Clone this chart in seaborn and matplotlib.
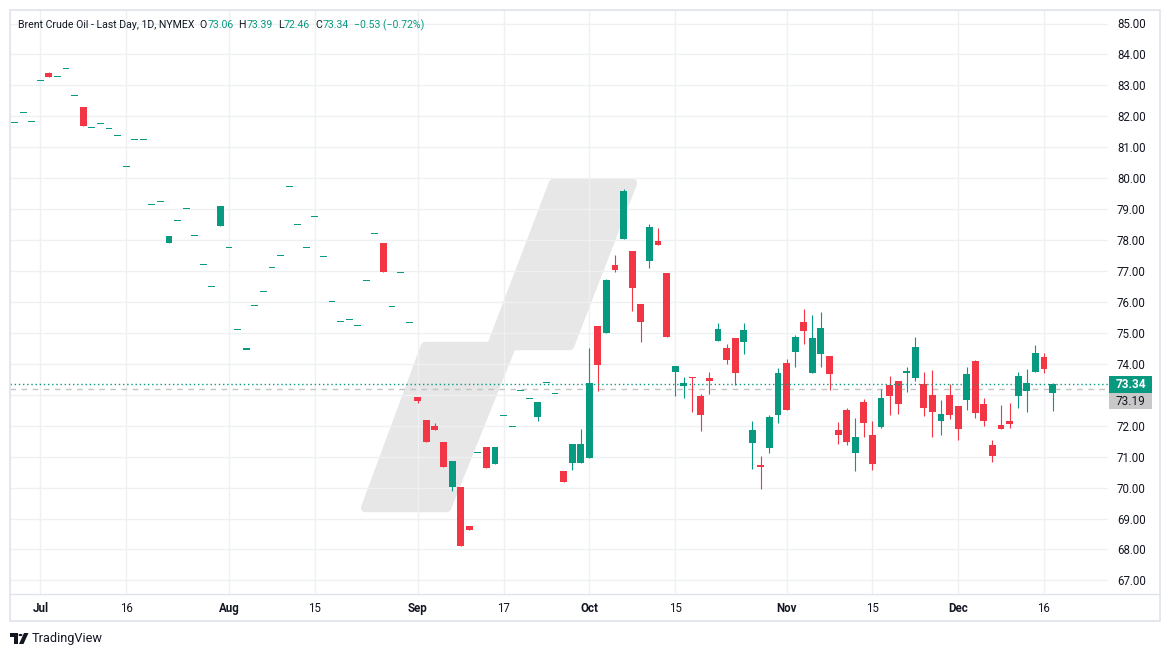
import numpy as np
import pandas as pd
import matplotlib
matplotlib.use("Agg")
import matplotlib.pyplot as plt
import seaborn as sns
from matplotlib.patches import Polygon, Rectangle, Circle
from matplotlib.lines import Line2D
from matplotlib.transforms import blended_transform_factory

# ---------------- data ----------------
holidays = ["2024-07-04", "2024-09-02", "2024-11-28"]
dates = [d for d in pd.bdate_range("2024-06-26", "2024-12-17") if d.strftime("%Y-%m-%d") not in holidays]

opens = [81.81, 82.13, 81.84, 83.16, 83.40, 83.29, 83.55, 82.68, 82.30, 81.65,
         81.77, 81.61, 81.39, 80.38, 81.26, 81.26, 79.16, 79.25, 77.91, 78.64,
         79.03, 78.15, 77.22, 76.51, 78.46, 77.77, 75.12, 74.48, 75.89, 76.34,
         77.12, 77.51, 79.74, 78.51, 77.77, 78.77, 77.48, 76.02, 75.37, 75.44,
         75.25, 76.70, 78.22, 77.90, 75.86, 76.96, 75.34, 72.93, 72.18, 71.99,
         71.47, 70.03, 70.02, 68.76, 71.14, 71.31, 70.76, 72.34, 71.98, 73.14,
         72.89, 72.29, 73.40, 73.05, 70.54, 70.81, 70.81, 70.97, 75.23, 75.01,
         77.20, 78.03, 77.65, 75.93, 77.33, 77.97, 76.94, 73.75, 73.29, 73.57,
         72.96, 73.54, 74.74, 74.51, 74.84, 74.71, 71.45, 70.73, 71.28, 72.34,
         74.03, 74.39, 75.35, 73.70, 74.32, 74.25, 71.86, 72.51, 71.12, 72.77,
         71.70, 71.96, 73.31, 73.45, 73.71, 73.54, 73.35, 72.99, 72.15, 72.99,
         72.63, 72.83, 74.09, 72.70, 71.38, 72.02, 72.15, 72.96, 73.12, 73.73,
         74.22, 73.06]
highs = [81.81, 82.13, 81.84, 83.16, 83.43, 83.29, 83.55, 82.68, 82.30, 81.65,
         81.77, 81.61, 81.39, 80.38, 81.26, 81.26, 79.16, 79.25, 78.13, 78.64,
         79.03, 78.15, 77.22, 76.51, 79.10, 77.77, 75.12, 74.48, 75.89, 76.34,
         77.12, 77.51, 79.74, 78.51, 77.77, 78.77, 77.48, 76.02, 75.37, 75.44,
         75.25, 76.70, 78.22, 77.90, 75.86, 76.96, 75.34, 72.93, 72.18, 72.09,
         71.47, 70.86, 70.02, 68.76, 71.14, 71.31, 71.31, 72.34, 71.98, 73.14,
         72.89, 72.77, 73.40, 73.05, 70.54, 71.42, 71.88, 74.51, 75.23, 76.74,
         77.52, 79.65, 77.65, 75.93, 78.52, 78.39, 76.94, 73.93, 73.57, 73.57,
         73.02, 73.74, 75.32, 74.64, 74.84, 75.32, 72.14, 71.02, 72.34, 73.86,
         74.16, 74.94, 75.77, 75.58, 75.68, 74.25, 72.12, 72.57, 72.25, 72.87,
         72.16, 73.19, 73.60, 73.45, 73.90, 74.87, 73.74, 73.80, 72.83, 73.35,
         72.63, 73.90, 74.12, 72.89, 71.54, 72.67, 72.73, 73.74, 73.83, 74.61,
         74.35, 73.39]
lows = [81.81, 82.13, 81.84, 83.16, 83.27, 83.29, 83.55, 82.68, 81.69, 81.65,
        81.77, 81.61, 81.39, 80.38, 81.26, 81.26, 79.16, 79.25, 77.91, 78.64,
        79.03, 78.15, 77.22, 76.51, 78.46, 77.77, 75.12, 74.48, 75.89, 76.34,
        77.12, 77.51, 79.74, 78.51, 77.77, 78.77, 77.48, 76.02, 75.37, 75.44,
        75.25, 76.70, 78.22, 76.97, 75.86, 76.96, 75.34, 72.73, 71.48, 71.87,
        70.68, 69.90, 68.12, 68.64, 71.14, 70.64, 70.76, 72.34, 71.98, 73.14,
        72.89, 72.16, 73.40, 73.05, 70.18, 70.57, 70.81, 70.97, 73.13, 75.01,
        76.98, 78.03, 75.72, 74.72, 77.11, 77.85, 74.88, 72.97, 72.90, 72.44,
        71.84, 73.03, 74.74, 74.00, 73.32, 74.32, 70.60, 69.95, 71.12, 72.09,
        72.51, 73.89, 74.64, 73.70, 73.89, 73.15, 71.40, 71.38, 70.54, 71.64,
        70.57, 71.93, 72.35, 72.38, 73.09, 73.45, 72.31, 71.64, 71.70, 72.21,
        71.54, 72.51, 72.25, 71.99, 70.83, 71.89, 71.93, 72.57, 72.44, 73.73,
        73.70, 72.46]
closes = [81.81, 82.13, 81.84, 83.16, 83.27, 83.29, 83.55, 82.68, 81.69, 81.65,
          81.77, 81.61, 81.39, 80.38, 81.26, 81.26, 79.16, 79.25, 78.13, 78.64,
          79.03, 78.15, 77.22, 76.51, 79.10, 77.77, 75.12, 74.48, 75.89, 76.34,
          77.12, 77.51, 79.74, 78.51, 77.77, 78.77, 77.48, 76.02, 75.37, 75.44,
          75.25, 76.70, 78.22, 76.97, 75.86, 76.96, 75.34, 72.81, 71.48, 71.87,
          70.68, 70.86, 68.12, 68.64, 71.14, 70.64, 71.31, 72.34, 71.98, 73.14,
          72.89, 72.77, 73.40, 73.05, 70.18, 71.42, 71.42, 73.38, 73.97, 76.71,
          77.04, 79.59, 76.46, 75.36, 78.42, 77.85, 74.88, 73.93, 73.38, 73.54,
          72.35, 73.45, 75.13, 74.12, 73.70, 75.10, 71.85, 70.67, 72.28, 73.70,
          72.51, 74.87, 75.06, 74.84, 75.16, 73.67, 71.70, 71.47, 71.64, 72.09,
          70.76, 72.90, 72.96, 72.70, 73.77, 74.55, 72.57, 72.44, 72.37, 72.34,
          71.90, 73.67, 72.41, 72.15, 71.02, 71.89, 72.05, 73.61, 73.38, 74.35,
          73.83, 73.34]

last_price = 73.34
ref_price = 73.19
price_ticks = list(range(67, 86))
tick_dates = ["2024-07-01", "2024-07-16", "2024-08-01", "2024-08-15", "2024-09-03", "2024-09-17",
              "2024-10-01", "2024-10-15", "2024-11-01", "2024-11-15", "2024-12-02", "2024-12-16"]
tick_labels = ["Jul", "16", "Aug", "15", "Sep", "17", "Oct", "15", "Nov", "15", "Dec", "16"]
title = "Brent Crude Oil - Last Day, 1D, NYMEX"
ohlc_labels = ["O", "H", "L", "C"]
ohlc_values = ["73.06", "73.39", "72.46", "73.34"]
change_text = "\u22120.53 (\u22120.72%)"

# ---------------- style ----------------
GREEN = "#089981"
RED = "#F23645"
DARK = "#131722"
GRID = "#eef0f3"
FRAME = "#e0e3eb"

sns.set_theme(style="white")
plt.rcParams["font.family"] = ["Roboto", "DejaVu Sans"]

W, H = 1171, 657
fig = plt.figure(figsize=(W / 100, H / 100), dpi=100)
fig.patch.set_facecolor("white")

def fx(px):
    return px / W

def fy(py):
    return 1 - py / H

AX_L, AX_R, AX_T, AX_B = 10, 1108, 10, 594
ax = fig.add_axes([fx(AX_L), fy(AX_B), (AX_R - AX_L) / W, (AX_B - AX_T) / H])
ax.set_facecolor("white")

df = pd.DataFrame({"date": dates, "open": opens, "high": highs, "low": lows, "close": closes})
df["idx"] = np.arange(len(df))
df["up"] = df["close"] >= df["open"]
df["color"] = np.where(df["up"], GREEN, RED)

# wicks
ax.vlines(df["idx"], df["low"], df["high"], colors=df["color"], linewidth=0.8, zorder=2)
# bodies
minh = 1.2 / 30.94
body_h = np.maximum((df["close"] - df["open"]).abs(), minh)
body_b = np.where((df["close"] - df["open"]).abs() < minh,
                  (df["open"] + df["close"]) / 2 - minh / 2,
                  np.minimum(df["open"], df["close"]))
ax.bar(df["idx"], body_h, bottom=body_b, width=0.8, color=df["color"], linewidth=0, zorder=3)

n = len(df)
x0 = -0.536
ax.set_xlim(x0, x0 + (AX_R - AX_L) / 8.578)
ax.set_ylim(85 - (AX_B - 23.5) / 30.94, 85 + (23.5 - AX_T) / 30.94)

# grid and ticks
date_to_idx = {d.strftime("%Y-%m-%d"): i for i, d in enumerate(df["date"])}
xt = [date_to_idx[d] for d in tick_dates]
ax.set_xticks(xt)
ax.set_xticklabels(tick_labels)
ax.set_yticks(price_ticks)
ax.set_yticklabels(["" if p == 73 else f"{p:.2f}" for p in price_ticks])
ax.yaxis.tick_right()
ax.tick_params(axis="y", length=0, pad=6.5, labelsize=8.3, labelcolor=DARK)
ax.tick_params(axis="x", length=0, pad=5.5, labelsize=8.3, labelcolor=DARK)
for lab in ax.get_xticklabels():
    if not lab.get_text().isdigit():
        lab.set_fontweight("bold")
ax.grid(True, color=GRID, linewidth=1.0, zorder=0.5)
ax.set_axisbelow(True)
for s in ax.spines.values():
    s.set_visible(False)

# decorative watermark shape (figure pixel coords)
shape_px = [(365, 508), (425, 346), (491, 346), (553, 183), (633, 183), (570, 346), (512, 346), (447, 508)]
poly = Polygon([(fx(a), fy(b)) for a, b in shape_px], closed=True, transform=fig.transFigure,
               facecolor="#e7e7e7", edgecolor="#e7e7e7", linewidth=6, joinstyle="round", zorder=0.3)
ax.add_patch(poly)

# price lines
ax.axhline(last_price, color=GREEN, linewidth=1.0, linestyle=(0, (1, 2)), zorder=4)
ax.axhline(ref_price, color="#c3c3c3", linewidth=1.0, linestyle=(0, (4, 4)), zorder=1)

# price labels
bt = blended_transform_factory(fig.transFigure, ax.transData)
hb = 16.6 / 30.94
fig.add_artist(Rectangle((fx(1109), last_price - hb / 2), (1152 - 1109) / W, hb, transform=bt,
                         facecolor=GREEN, edgecolor="none"))
fig.add_artist(Rectangle((fx(1109), last_price - hb / 2 - hb * 1.02), (1152 - 1109) / W, hb * 1.02, transform=bt,
                         facecolor="#c8c8c8", edgecolor="none"))
fig.text(fx(1130.5), last_price, f"{last_price:.2f}", transform=bt, ha="center", va="center",
         color="white", fontsize=8.5, fontweight="bold")
fig.text(fx(1130.5), last_price - hb * 1.02, f"{ref_price:.2f}", transform=bt, ha="center", va="center",
         color=DARK, fontsize=8.5)

# frame
fig.add_artist(Rectangle((fx(10), fy(621)), (1160 - 10) / W, (621 - 10) / H, transform=fig.transFigure,
                         facecolor="none", edgecolor=FRAME, linewidth=1.2))
fig.add_artist(Line2D([fx(10), fx(1160)], [fy(594), fy(594)], transform=fig.transFigure,
                      color=FRAME, linewidth=1.0))

# header
renderer = fig.canvas.get_renderer()
pieces = [(title, DARK, 5)]
for lab, val in zip(ohlc_labels, ohlc_values):
    pieces.append((lab, DARK, 0.5))
    pieces.append((val, GREEN, 5))
pieces.append((change_text, GREEN, 0))
xcur = 18
for txt, col, gap in pieces:
    t = fig.text(fx(xcur), fy(25), txt, color=col, fontsize=7.6, ha="left", va="center")
    bb = t.get_window_extent(renderer)
    xcur += bb.width + gap

# TradingView logo
fig.add_artist(Rectangle((fx(10), fy(637)), 8 / W, 4 / H, transform=fig.transFigure, facecolor=DARK, edgecolor="none"))
fig.add_artist(Rectangle((fx(14), fy(644)), 4 / W, 11 / H, transform=fig.transFigure, facecolor=DARK, edgecolor="none"))
fig.add_artist(Circle((fx(20.5), fy(635)), 2.0 / W, transform=fig.transFigure, facecolor=DARK, edgecolor="none"))
fig.add_artist(Polygon([(fx(24), fy(633)), (fx(28.5), fy(633)), (fx(23.5), fy(644)), (fx(19), fy(644))],
                       closed=True, transform=fig.transFigure, facecolor=DARK, edgecolor="none"))
fig.text(fx(32), fy(638.5), "TradingView", fontsize=9.2, color=DARK, ha="left", va="center")

fig.savefig("out.png", dpi=100, facecolor="white")
